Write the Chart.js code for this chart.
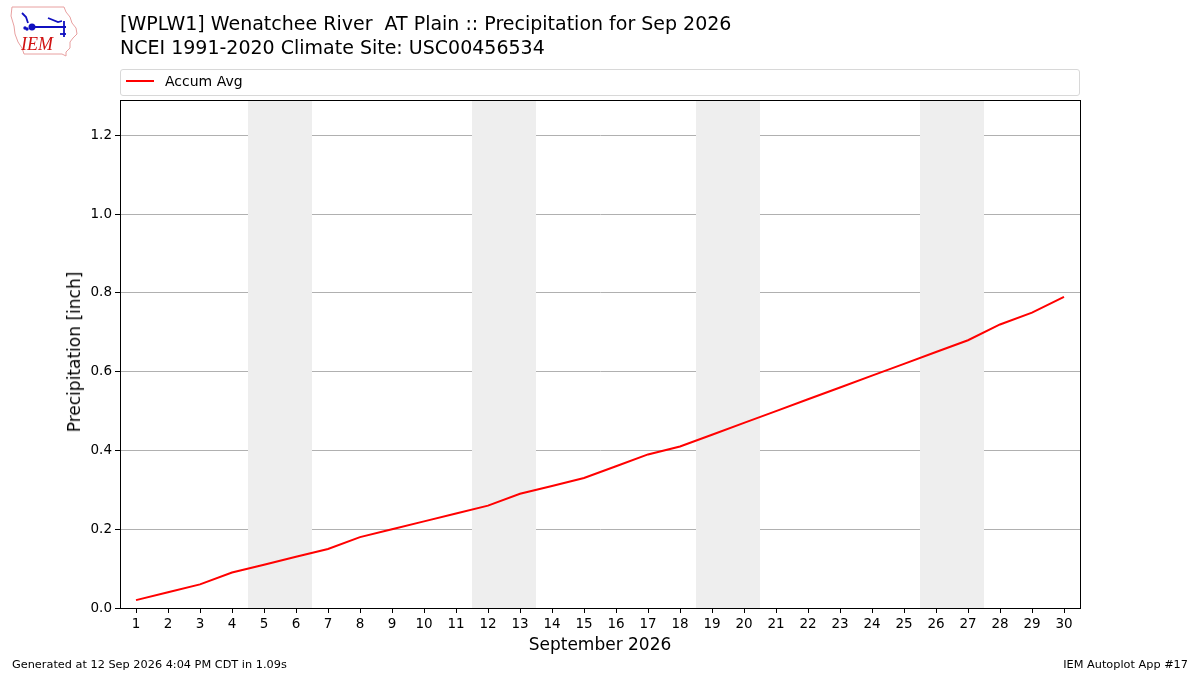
<!DOCTYPE html>
<html>
<head>
<meta charset="utf-8">
<script src="https://cdn.jsdelivr.net/npm/chart.js@4"></script>
<style>
  html,body{margin:0;padding:0;background:#fff;}
  #wrap{position:relative;width:1200px;height:675px;font-family:"DejaVu Sans",sans-serif;color:#000;}
  canvas{position:absolute;left:0;top:0;}
  .t{position:absolute;white-space:nowrap;}
</style>
</head>
<body>
<div id="wrap">
  <canvas id="c" width="1200" height="675"></canvas>
  <svg class="t" style="left:8px;top:4px" width="74" height="56" viewBox="0 0 74 56">
    <path d="M4 3 L56 3 L58 8 L62 13 L64 19 L68 24 L69 30 L65 34 L62 38 L62 44 L58 48 L58 52 L54 50 L16 50 L14 44 L10 38 L7 30 L6 22 L3 12 Z" fill="none" stroke="#e8a0a0" stroke-width="1"/>
    <g stroke="#1010c0" stroke-width="1.8" fill="#1010c0">
      <line x1="24" y1="23" x2="58" y2="23"/>
      <circle cx="24" cy="23" r="2.6"/>
      <path d="M14 9 L18 13 L20 19" fill="none"/>
      <path d="M40 14 L50 18 L54 17" fill="none"/>
      <line x1="56" y1="17" x2="56" y2="33"/>
      <line x1="52" y1="30" x2="58" y2="30"/>
      <circle cx="17" cy="24" r="0.8"/>
      <circle cx="19" cy="25" r="0.8"/>
    </g>
    <text x="13" y="46" font-family="Liberation Serif,serif" font-style="italic" font-size="18" fill="#d01010">IEM</text>
  </svg>
  <div class="t" id="title1" style="left:120px;top:12px;font-size:19px;line-height:23px;">[WPLW1] Wenatchee River&nbsp; AT Plain :: Precipitation for Sep 2026</div>
  <div class="t" id="title2" style="left:120px;top:36px;font-size:19px;line-height:23px;">NCEI 1991-2020 Climate Site: USC00456534</div>
  <div class="t" style="left:120px;top:69px;width:958px;height:25px;border:1px solid #d8d8d8;border-radius:3px;box-sizing:content-box;"></div>
  <div class="t" style="left:126px;top:80px;width:28px;height:2px;background:#ff0000;"></div>
  <div class="t" style="left:165px;top:72px;font-size:14px;line-height:18px;">Accum Avg</div>
  <div class="t" style="left:0;top:634px;width:1200px;text-align:center;font-size:17px;line-height:20px;">September 2026</div>
  <div class="t" style="top:352px;left:74px;font-size:17px;line-height:20px;transform:translate(-50%,-50%) rotate(-90deg);transform-origin:center;">Precipitation [inch]</div>
  <div class="t" style="left:12px;top:658px;font-size:11.3px;line-height:14px;">Generated at 12 Sep 2026 4:04 PM CDT in 1.09s</div>
  <div class="t" style="right:12px;top:658px;font-size:11.3px;line-height:14px;">IEM Autoplot App #17</div>
</div>
<script>
const days = [1,2,3,4,5,6,7,8,9,10,11,12,13,14,15,16,17,18,19,20,21,22,23,24,25,26,27,28,29,30];
const accumAvg = [0.02,0.04,0.06,0.09,0.11,0.13,0.15,0.18,0.20,0.22,0.24,0.26,0.29,0.31,0.33,0.36,0.39,0.41,0.44,0.47,0.50,0.53,0.56,0.59,0.62,0.65,0.68,0.72,0.75,0.79];
const weekendSpans = [[4.5,6.5],[11.5,13.5],[18.5,20.5],[25.5,27.5]];
const yTicks = [0.0,0.2,0.4,0.6,0.8,1.0,1.2];
const xTicks = days;

const shadePlugin = {
  id:'shade',
  beforeDatasetsDraw(chart){
    const {ctx, chartArea:a, scales:{x}} = chart;
    ctx.save();
    ctx.fillStyle = '#eeeeee';
    weekendSpans.forEach(([s,e])=>{
      const x0 = x.getPixelForValue(s), x1 = x.getPixelForValue(e);
      ctx.fillRect(x0, a.top, x1-x0, a.bottom-a.top);
    });
    ctx.restore();
  },
  afterDraw(chart){
    const {ctx, chartArea:a} = chart;
    ctx.save();
    ctx.strokeStyle = '#000';
    ctx.lineWidth = 1;
    ctx.strokeRect(Math.round(a.left)+0.5, Math.round(a.top)+0.5, Math.round(a.right-a.left), Math.round(a.bottom-a.top));
    ctx.restore();
  }
};

new Chart(document.getElementById('c'), {
  type:'line',
  data:{datasets:[{
    label:'Accum Avg',
    data: days.map((d,i)=>({x:d,y:accumAvg[i]})),
    borderColor:'#ff0000',
    borderWidth:2,
    pointRadius:0,
    tension:0,
    fill:false
  }]},
  options:{
    responsive:false,
    animation:false,
    devicePixelRatio:1,
    layout:{padding:{left:0,right:120,top:100,bottom:0}},
    plugins:{legend:{display:false},title:{display:false},tooltip:{enabled:false}},
    scales:{
      x:{
        type:'linear', min:0.5, max:30.5,
        afterFit(s){ s.height = 67; },
        afterBuildTicks(s){ s.ticks = xTicks.map(v=>({value:v})); },
        grid:{drawOnChartArea:false, color:'#000', tickLength:5, tickColor:'#000'},
        border:{color:'#000'},
        ticks:{color:'#000', font:{family:'DejaVu Sans', size:13.5}, padding:3, maxRotation:0, autoSkip:false, callback:v=>String(v)}
      },
      y:{
        type:'linear', min:0, max:1.29,
        afterFit(s){ s.width = 120; },
        afterBuildTicks(s){ s.ticks = yTicks.map(v=>({value:v})); },
        grid:{color:'#b0b0b0', tickLength:5, tickColor:'#000'},
        border:{color:'#000'},
        ticks:{color:'#000', font:{family:'DejaVu Sans', size:13.5}, padding:3, callback:v=>Number(v).toFixed(1)}
      }
    }
  },
  plugins:[shadePlugin]
});
</script>
</body>
</html>
